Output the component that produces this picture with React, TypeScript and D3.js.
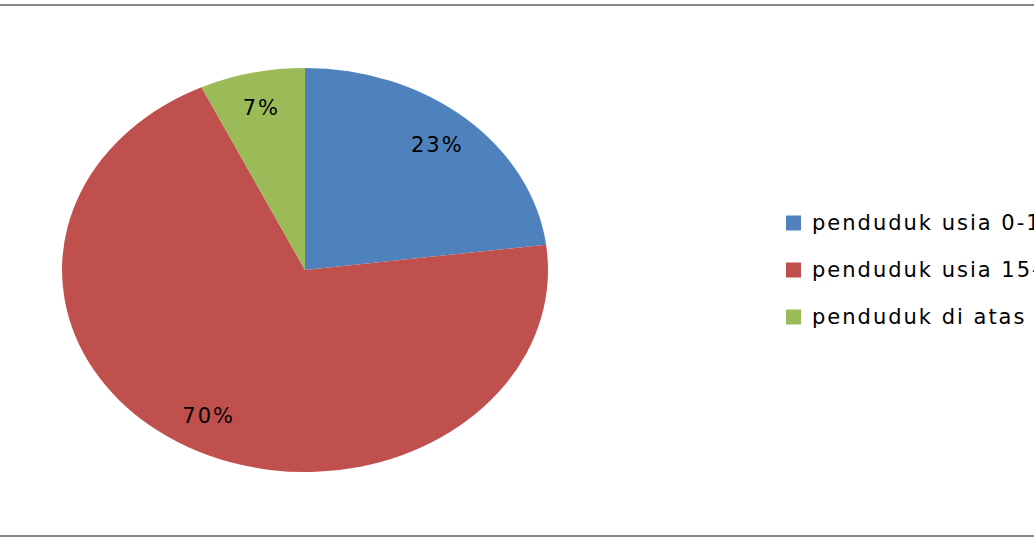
import React from "react";
import * as d3 from "d3";

const categories = ["penduduk usia 0-14 tahun", "penduduk usia 15-64 tahun", "penduduk di atas 65 tahun"];
const values = [23, 70, 7];
const colors = ["#4F81BD", "#C0504D", "#9BBB59"];

const W = 1034;
const H = 543;
const cx = 305;
const cy = 270;
const rx = 243;
const ry = 202;

export default function App() {
  const pie = d3.pie<number>().sort(null).value((d) => d);
  const arcs = pie(values);
  const arcGen = d3.arc<d3.PieArcDatum<number>>().innerRadius(0).outerRadius(rx);
  const labelArc = d3.arc<d3.PieArcDatum<number>>().innerRadius(200).outerRadius(200);
  const k = ry / rx;
  const total = d3.sum(values);
  const legendY = d3.scaleLinear().domain([0, 1]).range([223, 270]);

  return (
    <svg
      width={W}
      height={H}
      style={{ position: "absolute", left: 0, top: 0, background: "#fff" }}
      fontFamily="DejaVu Sans, Verdana, sans-serif"
    >
      <rect x={-5} y={5} width={W + 10} height={531} fill="none" stroke="#868686" strokeWidth={2} />
      <g transform={`translate(${cx},${cy}) scale(1,${k})`}>
        {arcs.map((a, i) => (
          <path key={i} d={arcGen(a) || ""} fill={colors[i]} />
        ))}
      </g>
      {arcs.map((a, i) => {
        const [x, y] = labelArc.centroid(a);
        return (
          <text
            key={"l" + i}
            x={cx + x}
            y={cy + y * k}
            textAnchor="middle"
            dominantBaseline="central"
            fontSize={21}
            letterSpacing={2}
            fill="#000"
          >
            {Math.round((values[i] / total) * 100) + "%"}
          </text>
        );
      })}
      {categories.map((c, i) => {
        const y = legendY(i);
        return (
          <g key={"g" + i}>
            <rect x={786} y={y - 7.5} width={15} height={15} fill={colors[i]} />
            <text x={812} y={y} dominantBaseline="central" fontSize={21} letterSpacing={2} fill="#000">
              {c}
            </text>
          </g>
        );
      })}
    </svg>
  );
}
